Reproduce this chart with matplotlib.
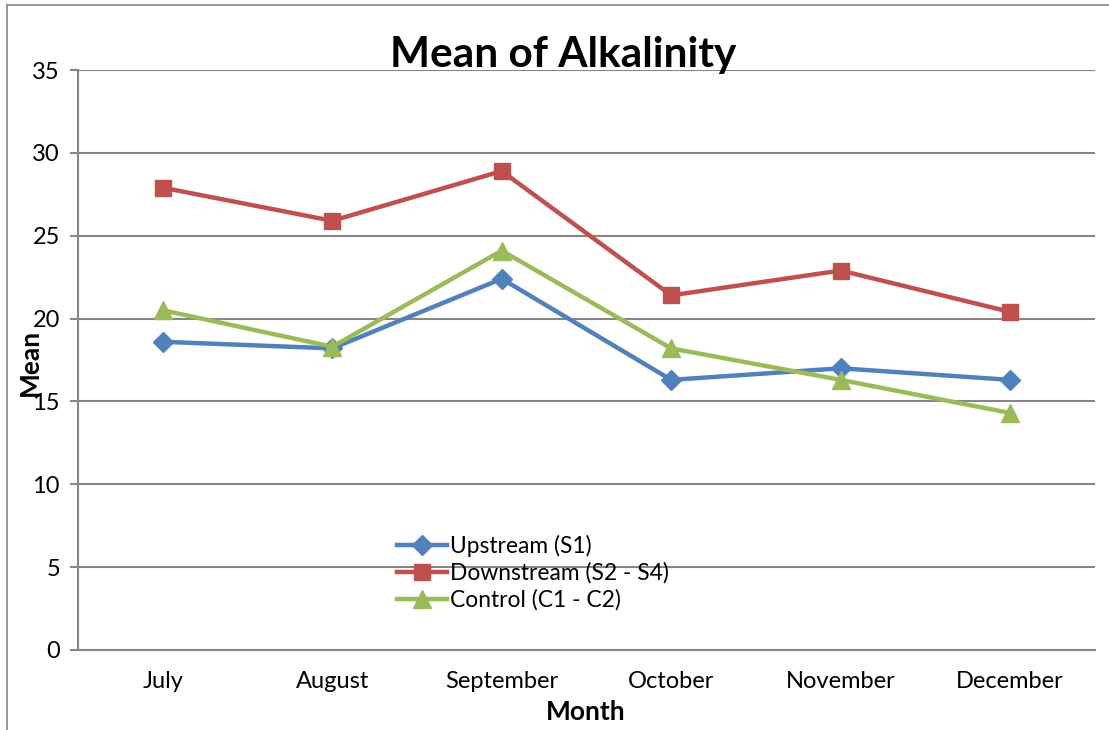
import matplotlib
matplotlib.use("Agg")
import matplotlib.pyplot as plt
from matplotlib.lines import Line2D

plt.rcParams['font.family'] = ['Lato', 'DejaVu Sans']

months = ["July", "August", "September", "October", "November", "December"]
upstream = [18.6, 18.2, 22.4, 16.3, 17.0, 16.3]
downstream = [27.9, 25.9, 28.9, 21.4, 22.9, 20.4]
control = [20.5, 18.3, 24.1, 18.2, 16.3, 14.3]
yticks = [0, 5, 10, 15, 20, 25, 30, 35]

fig = plt.figure(figsize=(11.09, 7.3), dpi=100)
ax = fig.add_axes([78/1109, 1 - 650/730, (1095-78)/1109, 580/730])

x = list(range(len(months)))
ax.plot(x, upstream, color='#4F81BD', lw=3.2, marker='D', ms=10, label="Upstream (S1)")
ax.plot(x, downstream, color='#C0504D', lw=3.2, marker='s', ms=12, label="Downstream (S2 - S4)")
ax.plot(x, control, color='#9BBB59', lw=3.2, marker='^', ms=13, label="Control (C1 - C2)")

ax.set_xlim(-0.5, 5.5)
ax.set_ylim(0, 35)
ax.set_yticks(yticks)
ax.set_xticks(x)
ax.set_xticklabels(months)
ax.tick_params(axis='x', length=0, pad=15, labelsize=17)
ax.tick_params(axis='y', length=6, width=1.5, color='#868686', pad=7, labelsize=17)
ax.grid(axis='y', color='#868686', lw=1.5)
ax.set_axisbelow(True)
for s in ['top', 'right']:
    ax.spines[s].set_visible(False)
for s in ['left', 'bottom']:
    ax.spines[s].set_color('#868686')
    ax.spines[s].set_linewidth(1.5)

fig.text(563/1109, 1 - 55/730, "Mean of Alkalinity", ha='center', va='center',
         fontsize=30.5, fontweight='bold')
fig.text(30/1109, 1 - 362/730, "Mean", ha='center', va='center', rotation=90,
         fontsize=19, fontweight='bold')
fig.text(586/1109, 1 - 712/730, "Month", ha='center', va='center',
         fontsize=19, fontweight='bold')

ax.legend(loc='upper left', bbox_to_anchor=(0.305, 0.214), frameon=False,
          fontsize=16.4, handlelength=2.2, handletextpad=0.12, labelspacing=0.24,
          numpoints=1, borderaxespad=0)

# outer chart frame (left and top edges visible)
fig.add_artist(Line2D([7/1109, 7/1109], [0, 1 - 5/730], transform=fig.transFigure,
                      color='#868686', lw=1.2))
fig.add_artist(Line2D([7/1109, 1], [1 - 5/730, 1 - 5/730], transform=fig.transFigure,
                      color='#868686', lw=1.2))

fig.savefig("out.png", dpi=100)
